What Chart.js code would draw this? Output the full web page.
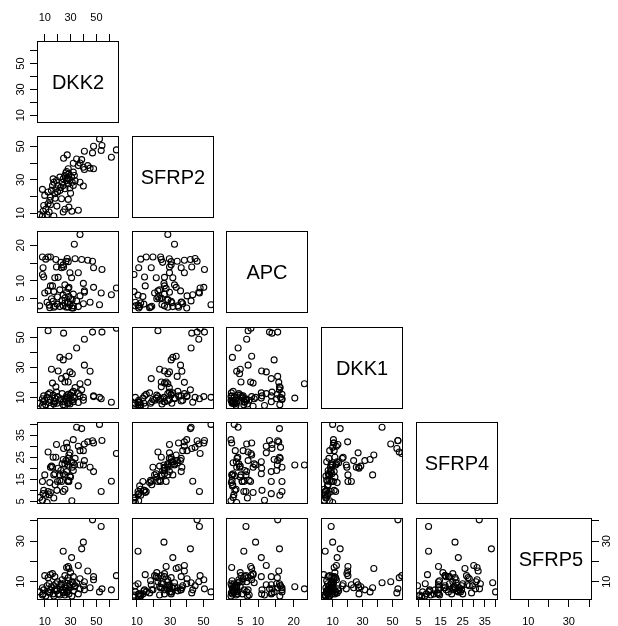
<!DOCTYPE html>
<html>
<head>
<meta charset="utf-8">
<script src="https://cdn.jsdelivr.net/npm/chart.js@4.4.0/dist/chart.umd.min.js"></script>
<style>
html, body { margin: 0; padding: 0; background: #fff; }
#wrap { position: relative; width: 618px; height: 626px; overflow: hidden; }
#wrap canvas { position: absolute; }
</style>
</head>
<body>
<div id="wrap"></div>
<script>
// variables (one value per sample, same order in every array)
var names = ['DKK2', 'SFRP2', 'APC', 'DKK1', 'SFRP4', 'SFRP5'];

var dkk2 = [6.1,8.2,8.2,8.7,9.2,10,10.8,11.8,12.6,12.6,13.4,13.9,14.4,14.4,15.2,16,16.5,17,17,17.8,
  18.6,19.1,19.4,19.9,20.4,21.7,21.7,23,23.5,24.3,24.3,24.3,24.6,25.6,25.6,25.6,26.4,26.9,26.9,27.4,
  28.2,28.2,28.2,28.2,28.7,28.7,29.5,29.5,30.8,31,31.3,32.1,32.1,32.1,32.9,34.7,36,36,37.3,37.3,
  38.6,39.9,39.9,40.7,40.7,43.3,45.1,47,47.8,47.8,52.4,53.7,54.3,61.6,65.5,22.5,27.5,30,18,33.5];
var sfrp2 = [9.2,8.4,24.3,11.2,14.7,20.7,12.4,9.2,22.7,15.7,10.8,17.7,19.7,15.1,23.7,26.6,30.6,28.6,8.4,21.7,
  24.7,29.6,14.3,22.7,26.6,31.6,23.7,18.7,28.6,30.6,26.6,10.8,42.9,32.6,24.7,12.4,34.2,35,29.6,44.9,
  36.6,27.6,18.3,30.6,33.6,13.7,29.6,25.1,31.6,11.2,28.6,39.9,26.6,34.6,32.6,42.5,38.5,11.8,40.1,28.6,
  42.1,37.5,26.3,47.1,36.2,38.5,37,46.1,50.1,36.6,54.4,47.5,50.5,43.5,47.9,25.5,31,22,19,29.5];
var apc = [3,11.8,16.7,13.7,11.1,6.6,16.1,4,7.2,16.7,3.2,2.5,16.7,8.6,5,8.6,4.3,2.6,7,10.9,
  16,13.9,3.5,5.5,11,2.8,7.5,13.7,4.6,14.5,3,6,13.9,8.9,5.2,3.8,15.5,2.6,6.8,16.3,
  4.1,7.9,2.7,15.4,8.2,5.6,12.3,3.4,10.9,2.4,4.8,2.4,6.3,3,20.3,4.4,12.3,2.8,5.8,23,
  16,3.6,9.3,6.8,7.2,15.8,4,15.5,8.2,13.7,3.3,6.6,13.2,6.1,8,15.2,3.9,5,2.9,16.2];
var dkk1 = [6,4.5,9,7,11,8,5,10,54.5,12,6.5,13,8.5,4,28.8,19.5,11.5,7.5,5.5,9.5,
  17,13.5,6,10.5,27.6,36.7,8,22.5,12.5,35,7,5,52.9,9,20.2,4.5,24,11,8.5,10,
  7.5,20.2,6,12,37.5,9.5,27,5.5,13,8,25.8,10.5,7,14,9.5,43,12.5,6.5,11,19.1,
  15,8,10,48.8,31.5,20,27.4,53.6,10.5,11,10,9,53.6,6.7,56.2,9,6,11.5,7,16.5];
var sfrp4 = [6.8,5.5,14,8.5,10,17,7.8,4.5,27.4,9.5,8,13.5,20.5,9,21,20.5,25,17,6.5,17.5,
  25,30.8,10,14,20,17,14.5,14,22,24,17.5,9.5,29,22,17,10.5,23.5,31.5,18.5,29.5,
  24.5,14,14.5,21.5,26,14,27,16.5,23,5.3,20.5,33,19,22.5,21.5,38.6,30,12,28,21.5,
  38,28,21.5,31,23.5,32,20.5,32.5,31.5,18.5,39.9,9.5,32.6,14.1,26.7,19,23,16,12.5,24.5];
var sfrp5 = [5,3.5,7,4,6,13,3,8,12,5,9,4.5,6,13.5,7.5,14,4,8,3,12.5,
  9,6.5,5.5,10,4,7,3.5,8.5,11,5,6,25,4.5,9.5,13,3.5,7,17,5,8,
  6,17.5,10.5,12,16.5,4,8.5,7,21.9,3,10,9,12.5,5.5,7.5,9.5,18,4,11.5,6.5,
  26.2,8,29.5,10,6,15.3,7,40.5,11,12.5,5,37.2,6.5,6,13,9,5,14.5,6,8];

var series = [dkk2, sfrp2, apc, dkk1, sfrp4, sfrp5];

// axis limits and ticks
var axisMin = [4, 7.2, 1, 2.2, 3.8, 1];
var axisMax = [67.5, 56.2, 24, 57, 41, 41.4];
var tickVals = [[10,20,30,40,50,60],[10,20,30,40,50],[5,10,15,20],[10,20,30,40,50],[5,10,15,20,25,30,35,40],[10,20,30,40]];
var tickLabels = [[10,30,50],[10,30,50],[5,10,20],[10,30,50],[5,15,25,35],[10,30]];

// panel grid
var colLeft = [37, 132, 226, 321, 416, 510];
var rowTop = [41, 136, 231, 327, 422, 518];
var SIZE = 82;
var FONT = '"Liberation Sans", Arial, sans-serif';

Chart.defaults.font.family = FONT;
Chart.defaults.color = '#000';

var boxPlugin = {
  id: 'panelBox',
  afterDraw: function (chart, args, opts) {
    var a = chart.chartArea, ctx = chart.ctx;
    ctx.save();
    ctx.strokeStyle = '#000';
    ctx.lineWidth = 1;
    ctx.strokeRect(a.left + 0.5, a.top + 0.5, a.right - a.left - 1, a.bottom - a.top - 1);
    if (opts.text) {
      ctx.fillStyle = '#000';
      ctx.font = '20px ' + FONT;
      ctx.textAlign = 'center';
      ctx.textBaseline = 'middle';
      ctx.fillText(opts.text, (a.left + a.right) / 2, (a.top + a.bottom) / 2 + 1);
    }
    ctx.restore();
  }
};

// y tick labels are drawn rotated, like R does
var rotLabels = {
  id: 'rotLabels',
  afterDraw: function (chart, args, opts) {
    if (!opts.side) return;
    var s = chart.scales.y, a = chart.chartArea, ctx = chart.ctx;
    ctx.save();
    ctx.fillStyle = '#000';
    ctx.font = '11px ' + FONT;
    ctx.textAlign = 'center';
    ctx.textBaseline = 'middle';
    opts.labels.forEach(function (v) {
      var y = s.getPixelForValue(v);
      var x = opts.side === 'left' ? a.left - 16 : a.right + 15;
      ctx.save();
      ctx.translate(x, y);
      ctx.rotate(-Math.PI / 2);
      ctx.fillText(String(v), 0, 0);
      ctx.restore();
    });
    ctx.restore();
  }
};

function makePanel(r, c) {
  var hasTop = (r === 0 && c === 0);
  var hasLeft = (c === 0);
  var hasBottom = (r === 5);
  var hasRight = (r === 5 && c === 5);
  var mT = hasTop ? rowTop[0] : 0;
  var mL = hasLeft ? colLeft[0] : 0;
  var mB = hasBottom ? 626 - (rowTop[5] + SIZE) : 0;
  var mR = hasRight ? 618 - (colLeft[5] + SIZE) : 0;

  var cv = document.createElement('canvas');
  cv.width = SIZE + mL + mR;
  cv.height = SIZE + mT + mB;
  cv.style.left = (colLeft[c] - mL) + 'px';
  cv.style.top = (rowTop[r] - mT) + 'px';
  cv.style.width = cv.width + 'px';
  cv.style.height = cv.height + 'px';
  document.getElementById('wrap').appendChild(cv);

  var data = [];
  if (r !== c) {
    var xs = series[c], ys = series[r];
    for (var i = 0; i < xs.length; i++) data.push({x: xs[i], y: ys[i]});
  }

  var xLabels = tickLabels[c], yLabels = tickLabels[r];

  new Chart(cv, {
    type: 'scatter',
    data: {
      datasets: [{
        data: data,
        pointStyle: 'circle',
        pointRadius: 3,
        borderWidth: 1.1,
        borderColor: '#000',
        backgroundColor: 'rgba(0,0,0,0)'
      }]
    },
    options: {
      responsive: false,
      animation: false,
      events: [],
      layout: { padding: 0, autoPadding: false },
      plugins: {
        legend: { display: false },
        tooltip: { enabled: false },
        panelBox: { text: r === c ? names[r] : '' },
        rotLabels: { side: hasLeft ? 'left' : (hasRight ? 'right' : ''), labels: yLabels }
      },
      scales: {
        x: {
          type: 'linear',
          position: hasTop ? 'top' : 'bottom',
          display: hasTop || hasBottom,
          min: axisMin[c],
          max: axisMax[c],
          afterBuildTicks: function (s) {
            s.ticks = tickVals[c].map(function (v) { return {value: v}; });
          },
          afterFit: function (s) {
            s.height = hasTop ? mT : mB;
            s.paddingLeft = 0; s.paddingRight = 0;
          },
          border: { display: false },
          grid: { drawOnChartArea: false, drawTicks: true, tickLength: 7, color: '#000', lineWidth: 1 },
          ticks: {
            autoSkip: false,
            maxRotation: 0,
            minRotation: 0,
            padding: hasTop ? 9 : 8,
            font: { size: 11 },
            callback: function (v) { return xLabels.indexOf(v) >= 0 ? String(v) : ''; }
          }
        },
        y: {
          type: 'linear',
          position: hasRight ? 'right' : 'left',
          display: hasLeft || hasRight,
          min: axisMin[r],
          max: axisMax[r],
          afterBuildTicks: function (s) {
            s.ticks = tickVals[r].map(function (v) { return {value: v}; });
          },
          afterFit: function (s) {
            s.width = hasLeft ? mL : mR;
            s.paddingTop = 0; s.paddingBottom = 0;
          },
          border: { display: false },
          grid: { drawOnChartArea: false, drawTicks: true, tickLength: 7, color: '#000', lineWidth: 1 },
          ticks: { display: false }
        }
      }
    },
    plugins: [boxPlugin, rotLabels]
  });
}

for (var r = 0; r < 6; r++) {
  for (var c = 0; c <= r; c++) {
    makePanel(r, c);
  }
}
</script>
</body>
</html>
